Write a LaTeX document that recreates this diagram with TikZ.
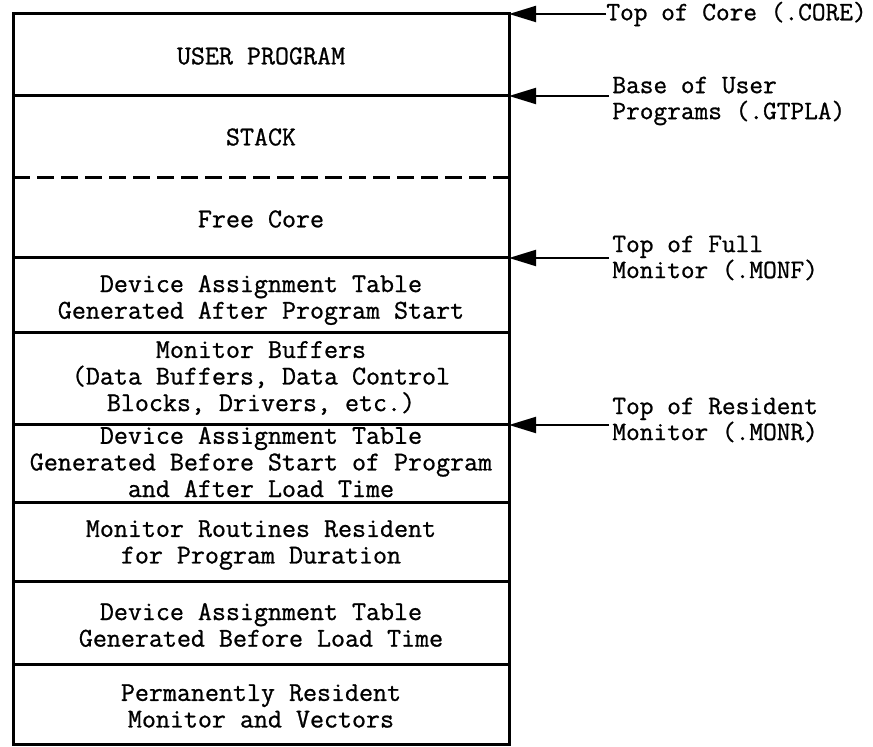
\documentclass[tikz,border=0pt]{standalone}
\usepackage{fontspec}
\setmonofont[FakeBold=0.9]{Latin Modern Mono}
\usetikzlibrary{arrows.meta}
\tikzset{
  lay/.style={font=\ttfamily\fontsize{13.6}{13.3}\selectfont, align=center, inner sep=0pt},
  lbl/.style={font=\ttfamily\fontsize{13.3}{13}\selectfont, align=left, anchor=west, inner xsep=1.5pt, inner ysep=0pt},
  boxline/.style={line width=1.5pt},
  ptr/.style={line width=1pt, -{Triangle[length=13.5pt,width=8pt]}},
}
\begin{document}
\begin{tikzpicture}[x=0.5pt,y=-0.5pt]
\useasboundingbox (0,0) rectangle (873,747);
% outline
\draw[boxline] (13,14) rectangle (509,745);
\draw[boxline] (13,96) -- (509,96);
\draw[boxline, dash pattern=on 8.5pt off 3.5pt] (13,178) -- (509,178);
\foreach \yy in {258,333,425,503,582,665}
  \draw[boxline] (13,\yy) -- (509,\yy);
% edge coordinates
\coordinate (e1) at (509,14);
\coordinate (e2) at (509,96);
\coordinate (e3) at (509,258);
\coordinate (e4) at (509,425);
% layer texts
\node[lay] (t1) at (261,56) {USER PROGRAM};
\node[lay] (t2) at (261,137) {STACK};
\node[lay] (t3) at (261,219) {Free Core};
\node[lay] (t4) at (261,300) {Device Assignment Table\\Generated After Program Start};
\node[lay] (t5) at (261,378) {Monitor Buffers\\(Data Buffers, Data Control\\Blocks, Drivers, etc.)};
\node[lay] (t6) at (261,462) {Device Assignment Table\\Generated Before Start of Program\\and After Load Time};
\node[lay] (t7) at (261,545) {Monitor Routines Resident\\for Program Duration};
\node[lay] (t8) at (261,625) {Device Assignment Table\\Generated Before Load Time};
\node[lay] (t9) at (261,706) {Permanently Resident\\Monitor and Vectors};
% labels
\node[lbl, inner xsep=0pt] (l1) at (606,14) {Top of Core (.CORE)};
\node[lbl] (l2) at (609,101) {Base of User\\Programs (.GTPLA)};
\node[lbl] (l3) at (609,258) {Top of Full\\Monitor (.MONF)};
\node[lbl] (l4) at (609,420) {Top of Resident\\Monitor (.MONR)};
% arrows
\draw[ptr] (l1.west) -- (e1);
\draw[ptr] (l2.west |- e2) -- (e2);
\draw[ptr] (l3.west |- e3) -- (e3);
\draw[ptr] (l4.west |- e4) -- (e4);
\end{tikzpicture}
\end{document}
